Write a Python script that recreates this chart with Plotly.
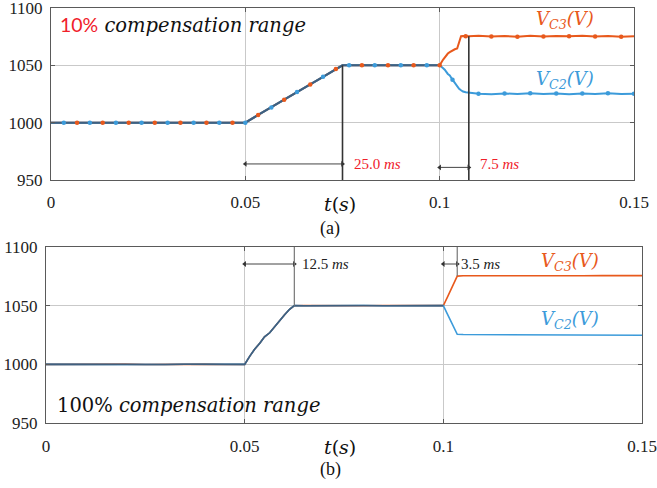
import numpy as np
import plotly.graph_objects as go

# ---------------- data: panel (a) 10% compensation range ----------------
t_a = [0, 0.0033, 0.0067, 0.01, 0.0133, 0.0167, 0.02, 0.0233, 0.0267, 0.03,
       0.0333, 0.0367, 0.04, 0.0433, 0.0467, 0.05, 0.0533, 0.0567, 0.06, 0.0633,
       0.0667, 0.07, 0.0733, 0.075, 0.0767, 0.08, 0.0833, 0.0867, 0.09, 0.0933,
       0.0967, 0.1, 0.1009, 0.1013, 0.1021, 0.1026, 0.1033, 0.1039, 0.1045, 0.105,
       0.1055, 0.106, 0.1067, 0.1075, 0.11, 0.1133, 0.1167, 0.12, 0.1233, 0.1267,
       0.13, 0.1333, 0.1367, 0.14, 0.1433, 0.1467, 0.15]
vc3_a = [1000, 1000, 1000, 1000, 1000, 1000, 1000, 1000, 1000, 1000,
         1000, 1000, 1000, 1000, 1000, 1000, 1006.7, 1013.3, 1020, 1026.7,
         1033.3, 1040, 1046.7, 1050, 1050, 1050, 1050, 1050, 1050, 1050,
         1050, 1050, 1055, 1057, 1060.3, 1061.5, 1063, 1064, 1064.7, 1070.5,
         1075.4, 1075.5, 1075.3, 1075.4, 1075.8, 1075.2, 1075.6, 1075.0, 1075.7, 1075.1,
         1075.6, 1075.3, 1075.8, 1075.1, 1075.5, 1075.0, 1075.4]
vc2_a = [1000, 1000, 1000, 1000, 1000, 1000, 1000, 1000, 1000, 1000,
         1000, 1000, 1000, 1000, 1000, 1000, 1006.7, 1013.3, 1020, 1026.7,
         1033.3, 1040, 1046.7, 1050, 1050, 1050, 1050, 1050, 1050, 1050,
         1050, 1050, 1047.5, 1046.2, 1042.5, 1041.2, 1037.5, 1034.5, 1032, 1029.6,
         1028.3, 1027.2, 1026.6, 1026.2, 1025.3, 1024.8, 1025.5, 1024.9, 1025.6, 1025.0,
         1025.4, 1024.8, 1025.5, 1025.1, 1025.6, 1024.9, 1025.2]

# ---------------- data: panel (b) 100% compensation range ----------------
t_b = [0, 0.005, 0.01, 0.015, 0.02, 0.025, 0.03, 0.035, 0.04, 0.045, 0.05,
       0.0513, 0.0525, 0.0538, 0.055, 0.0563, 0.0575, 0.0588, 0.06, 0.0613, 0.0625,
       0.065, 0.07, 0.075, 0.08, 0.085, 0.09, 0.095, 0.1,
       0.101, 0.102, 0.1035, 0.105, 0.11, 0.115, 0.12, 0.125, 0.13, 0.135, 0.14, 0.145, 0.15]
vc3_b = [1000, 1000.2, 999.9, 1000.1, 1000.2, 999.9, 1000.1, 1000.0, 1000.2, 999.9, 1000,
         1007, 1012.8, 1017.9, 1023.5, 1026.9, 1032, 1037.2, 1042, 1046.9, 1050,
         1050.2, 1050.0, 1050.1, 1049.9, 1050.2, 1050.0, 1050.1, 1050,
         1057, 1064.5, 1075.2, 1075.5, 1075.4, 1075.5, 1075.3, 1075.5, 1075.4, 1075.5, 1075.6, 1075.5, 1075.6]
vc2_b = [1000, 999.9, 1000.1, 1000.0, 999.8, 1000.1, 999.9, 1000.1, 999.9, 1000.1, 1000,
         1007, 1012.8, 1017.9, 1023.5, 1026.9, 1032, 1037.2, 1042, 1046.9, 1050,
         1049.9, 1050.1, 1049.9, 1050.1, 1049.9, 1050.0, 1049.9, 1050,
         1043, 1035.8, 1025.6, 1025.4, 1025.3, 1025.3, 1025.2, 1025.1, 1025.0, 1025.0, 1024.9, 1024.8, 1024.8]

# event times (s)
ramp_a = [0.05, 0.075]
step_a = [0.1, 0.1075]
ramp_b = [0.05, 0.0625]
step_b = [0.1, 0.1035]

x_ticks = [0, 0.05, 0.1, 0.15]
x_ticktext = ["0", "0.05", "0.1", "0.15"]
y_ticks = [950, 1000, 1050, 1100]

ORANGE = "#E8591C"
BLUE = "#3C9BDA"
OVERLAP = "#40607F"
RED = "#F0202A"
SERIF = "Liberation Serif"
MATH = "DejaVu Serif"

fig = go.Figure()

def add_panel(t, v3, v2, xa, ya, lw, markers):
    t = np.asarray(t); v3 = np.asarray(v3); v2 = np.asarray(v2)
    fig.add_trace(go.Scatter(x=t, y=v3, mode="lines", line=dict(color=ORANGE, width=lw),
                             xaxis=xa, yaxis=ya, showlegend=False, hoverinfo="skip"))
    fig.add_trace(go.Scatter(x=t, y=v2, mode="lines", line=dict(color=BLUE, width=lw),
                             xaxis=xa, yaxis=ya, showlegend=False, hoverinfo="skip"))
    common = t <= 0.1
    fig.add_trace(go.Scatter(x=t[common], y=v2[common], mode="lines",
                             line=dict(color=OVERLAP, width=lw),
                             xaxis=xa, yaxis=ya, showlegend=False, hoverinfo="skip"))
    if markers:
        idx = np.round(t * 300)
        on_grid = np.abs(t * 300 - idx) < 0.06
        even = on_grid & (idx % 2 == 0) & (idx > 0)
        odd = on_grid & (idx % 2 == 1)
        fig.add_trace(go.Scatter(x=t[even], y=v3[even], mode="markers",
                                 marker=dict(color=ORANGE, size=4.5),
                                 xaxis=xa, yaxis=ya, showlegend=False, hoverinfo="skip"))
        fig.add_trace(go.Scatter(x=t[odd], y=v2[odd], mode="markers",
                                 marker=dict(color=BLUE, size=4.5),
                                 xaxis=xa, yaxis=ya, showlegend=False, hoverinfo="skip"))

add_panel(t_a, vc3_a, vc2_a, "x", "y", 2, True)
add_panel(t_b, vc3_b, vc2_b, "x2", "y2", 1.6, False)

def dbl_arrow(x0, x1, y, xa, ya):
    fig.add_trace(go.Scatter(x=[x0, x1], y=[y, y], mode="lines+markers",
                             line=dict(color="#444", width=1),
                             marker=dict(symbol=["triangle-left", "triangle-right"],
                                         size=5, color="#333"),
                             xaxis=xa, yaxis=ya, showlegend=False, hoverinfo="skip"))

dbl_arrow(ramp_a[0], ramp_a[1], 964, "x", "y")
dbl_arrow(step_a[0], step_a[1], 961, "x", "y")
dbl_arrow(ramp_b[0], ramp_b[1], 1085.5, "x2", "y2")
dbl_arrow(step_b[0], step_b[1], 1085.5, "x2", "y2")

axis_common = dict(showgrid=True, gridcolor="#C9C9C9", gridwidth=1, showline=True,
                   linecolor="#5A5A5A", linewidth=1.2, mirror="ticks", ticks="inside",
                   ticklen=4, tickcolor="#5A5A5A", zeroline=False, automargin=False,
                   ticklabeloverflow="allow",
                   tickfont=dict(family=SERIF, size=17, color="#222"))

fig.update_layout(
    template="none",
    width=657, height=488, margin=dict(l=0, r=0, t=0, b=0, autoexpand=False),
    paper_bgcolor="white", plot_bgcolor="white", showlegend=False,
    xaxis=dict(domain=[51/657, 634/657], range=[0, 0.15], tickvals=x_ticks,
               ticktext=x_ticktext, anchor="y", ticklabelstandoff=6, **axis_common),
    yaxis=dict(domain=[1-180/488, 1-8/488], range=[950, 1100], tickvals=y_ticks,
               anchor="x", ticklabelstandoff=4, **axis_common),
    xaxis2=dict(domain=[46/657, 642/657], range=[0, 0.15], tickvals=x_ticks,
                ticktext=x_ticktext, anchor="y2", ticklabelstandoff=7, **axis_common),
    yaxis2=dict(domain=[1-423/488, 1-247/488], range=[950, 1100], tickvals=y_ticks,
                anchor="x2", ticklabelstandoff=4, **axis_common),
)

shapes = []
ann = []

# ---- panel (a) annotations ----
lvl_ramp_a = float(np.interp(ramp_a[1], t_a, vc3_a))
lvl_step_a = float(np.interp(step_a[1], t_a, vc3_a))
shapes.append(dict(type="line", xref="x", yref="y", x0=ramp_a[1], x1=ramp_a[1],
                   y0=950, y1=lvl_ramp_a, line=dict(color="#333", width=1.6)))
shapes.append(dict(type="line", xref="x", yref="y", x0=step_a[1], x1=step_a[1],
                   y0=950, y1=lvl_step_a, line=dict(color="#333", width=1.6)))

ann.append(dict(x=ramp_a[1] + 0.0025, y=964, xref="x", yref="y", xanchor="left",
                yanchor="middle", showarrow=False,
                text=f"{(ramp_a[1]-ramp_a[0])*1000:.1f} <i>ms</i>",
                font=dict(family=SERIF, size=15, color=RED)))
ann.append(dict(x=step_a[1] + 0.0024, y=964, xref="x", yref="y", xanchor="left",
                yanchor="middle", showarrow=False,
                text=f"{(step_a[1]-step_a[0])*1000:.1f} <i>ms</i>",
                font=dict(family=SERIF, size=15, color=RED)))
ann.append(dict(x=0.0018, y=1085, xref="x", yref="y", xanchor="left", yanchor="middle",
                showarrow=False,
                text="<span style='font-family:Lato;color:#F0202A'>10%</span> <i>compensation range</i>",
                font=dict(family=MATH, size=19.5, color="#111")))
ann.append(dict(x=0.1323, y=1089.5, xref="x", yref="y", xanchor="center", yanchor="middle",
                showarrow=False, text="<i>V<sub>C3</sub>(V)</i>",
                font=dict(family=MATH, size=18, color=ORANGE)))
ann.append(dict(x=0.1323, y=1037, xref="x", yref="y", xanchor="center", yanchor="middle",
                showarrow=False, text="<i>V<sub>C2</sub>(V)</i>",
                font=dict(family=MATH, size=18, color=BLUE)))

# ---- panel (b) annotations ----
lvl_ramp_b = float(np.interp(ramp_b[1], t_b, vc3_b))
lvl_step_b = float(np.interp(step_b[1], t_b, vc3_b))
shapes.append(dict(type="line", xref="x2", yref="y2", x0=ramp_b[1], x1=ramp_b[1],
                   y0=lvl_ramp_b, y1=1100, line=dict(color="#777", width=1.2)))
shapes.append(dict(type="line", xref="x2", yref="y2", x0=step_b[1], x1=step_b[1],
                   y0=lvl_step_b, y1=1100, line=dict(color="#777", width=1.2)))
ann.append(dict(x=ramp_b[1] + 0.0014, y=1085.5, xref="x2", yref="y2", xanchor="left",
                yanchor="middle", showarrow=False,
                text=f"{(ramp_b[1]-ramp_b[0])*1000:.1f} <i>ms</i>",
                font=dict(family=SERIF, size=15, color="#222")))
ann.append(dict(x=step_b[1] + 0.0005, y=1085.5, xref="x2", yref="y2", xanchor="left",
                yanchor="middle", showarrow=False,
                text=f"{(step_b[1]-step_b[0])*1000:.1f} <i>ms</i>",
                font=dict(family=SERIF, size=15, color="#222")))
ann.append(dict(x=0.0023, y=964.5, xref="x2", yref="y2", xanchor="left", yanchor="middle",
                showarrow=False, text="100% <i>compensation range</i>",
                font=dict(family=MATH, size=19.5, color="#111")))
ann.append(dict(x=0.1319, y=1087.5, xref="x2", yref="y2", xanchor="center", yanchor="middle",
                showarrow=False, text="<i>V<sub>C3</sub>(V)</i>",
                font=dict(family=MATH, size=18, color=ORANGE)))
ann.append(dict(x=0.1319, y=1037.8, xref="x2", yref="y2", xanchor="center", yanchor="middle",
                showarrow=False, text="<i>V<sub>C2</sub>(V)</i>",
                font=dict(family=MATH, size=18, color=BLUE)))

# ---- axis titles & captions (paper) ----
for yc, cap, yt in [(204, "(a)", 229), (447, "(b)", 469)]:
    ann.append(dict(x=340/657, y=1-yc/488, xref="paper", yref="paper", xanchor="center",
                    yanchor="middle", showarrow=False, text="<i>t</i>(<i>s</i>)",
                    font=dict(family=MATH, size=19, color="#111")))
    ann.append(dict(x=330/657, y=1-yt/488, xref="paper", yref="paper", xanchor="center",
                    yanchor="middle", showarrow=False, text=cap,
                    font=dict(family=SERIF, size=18, color="#111")))

fig.update_layout(shapes=shapes, annotations=ann)
fig.write_html("out.html")
